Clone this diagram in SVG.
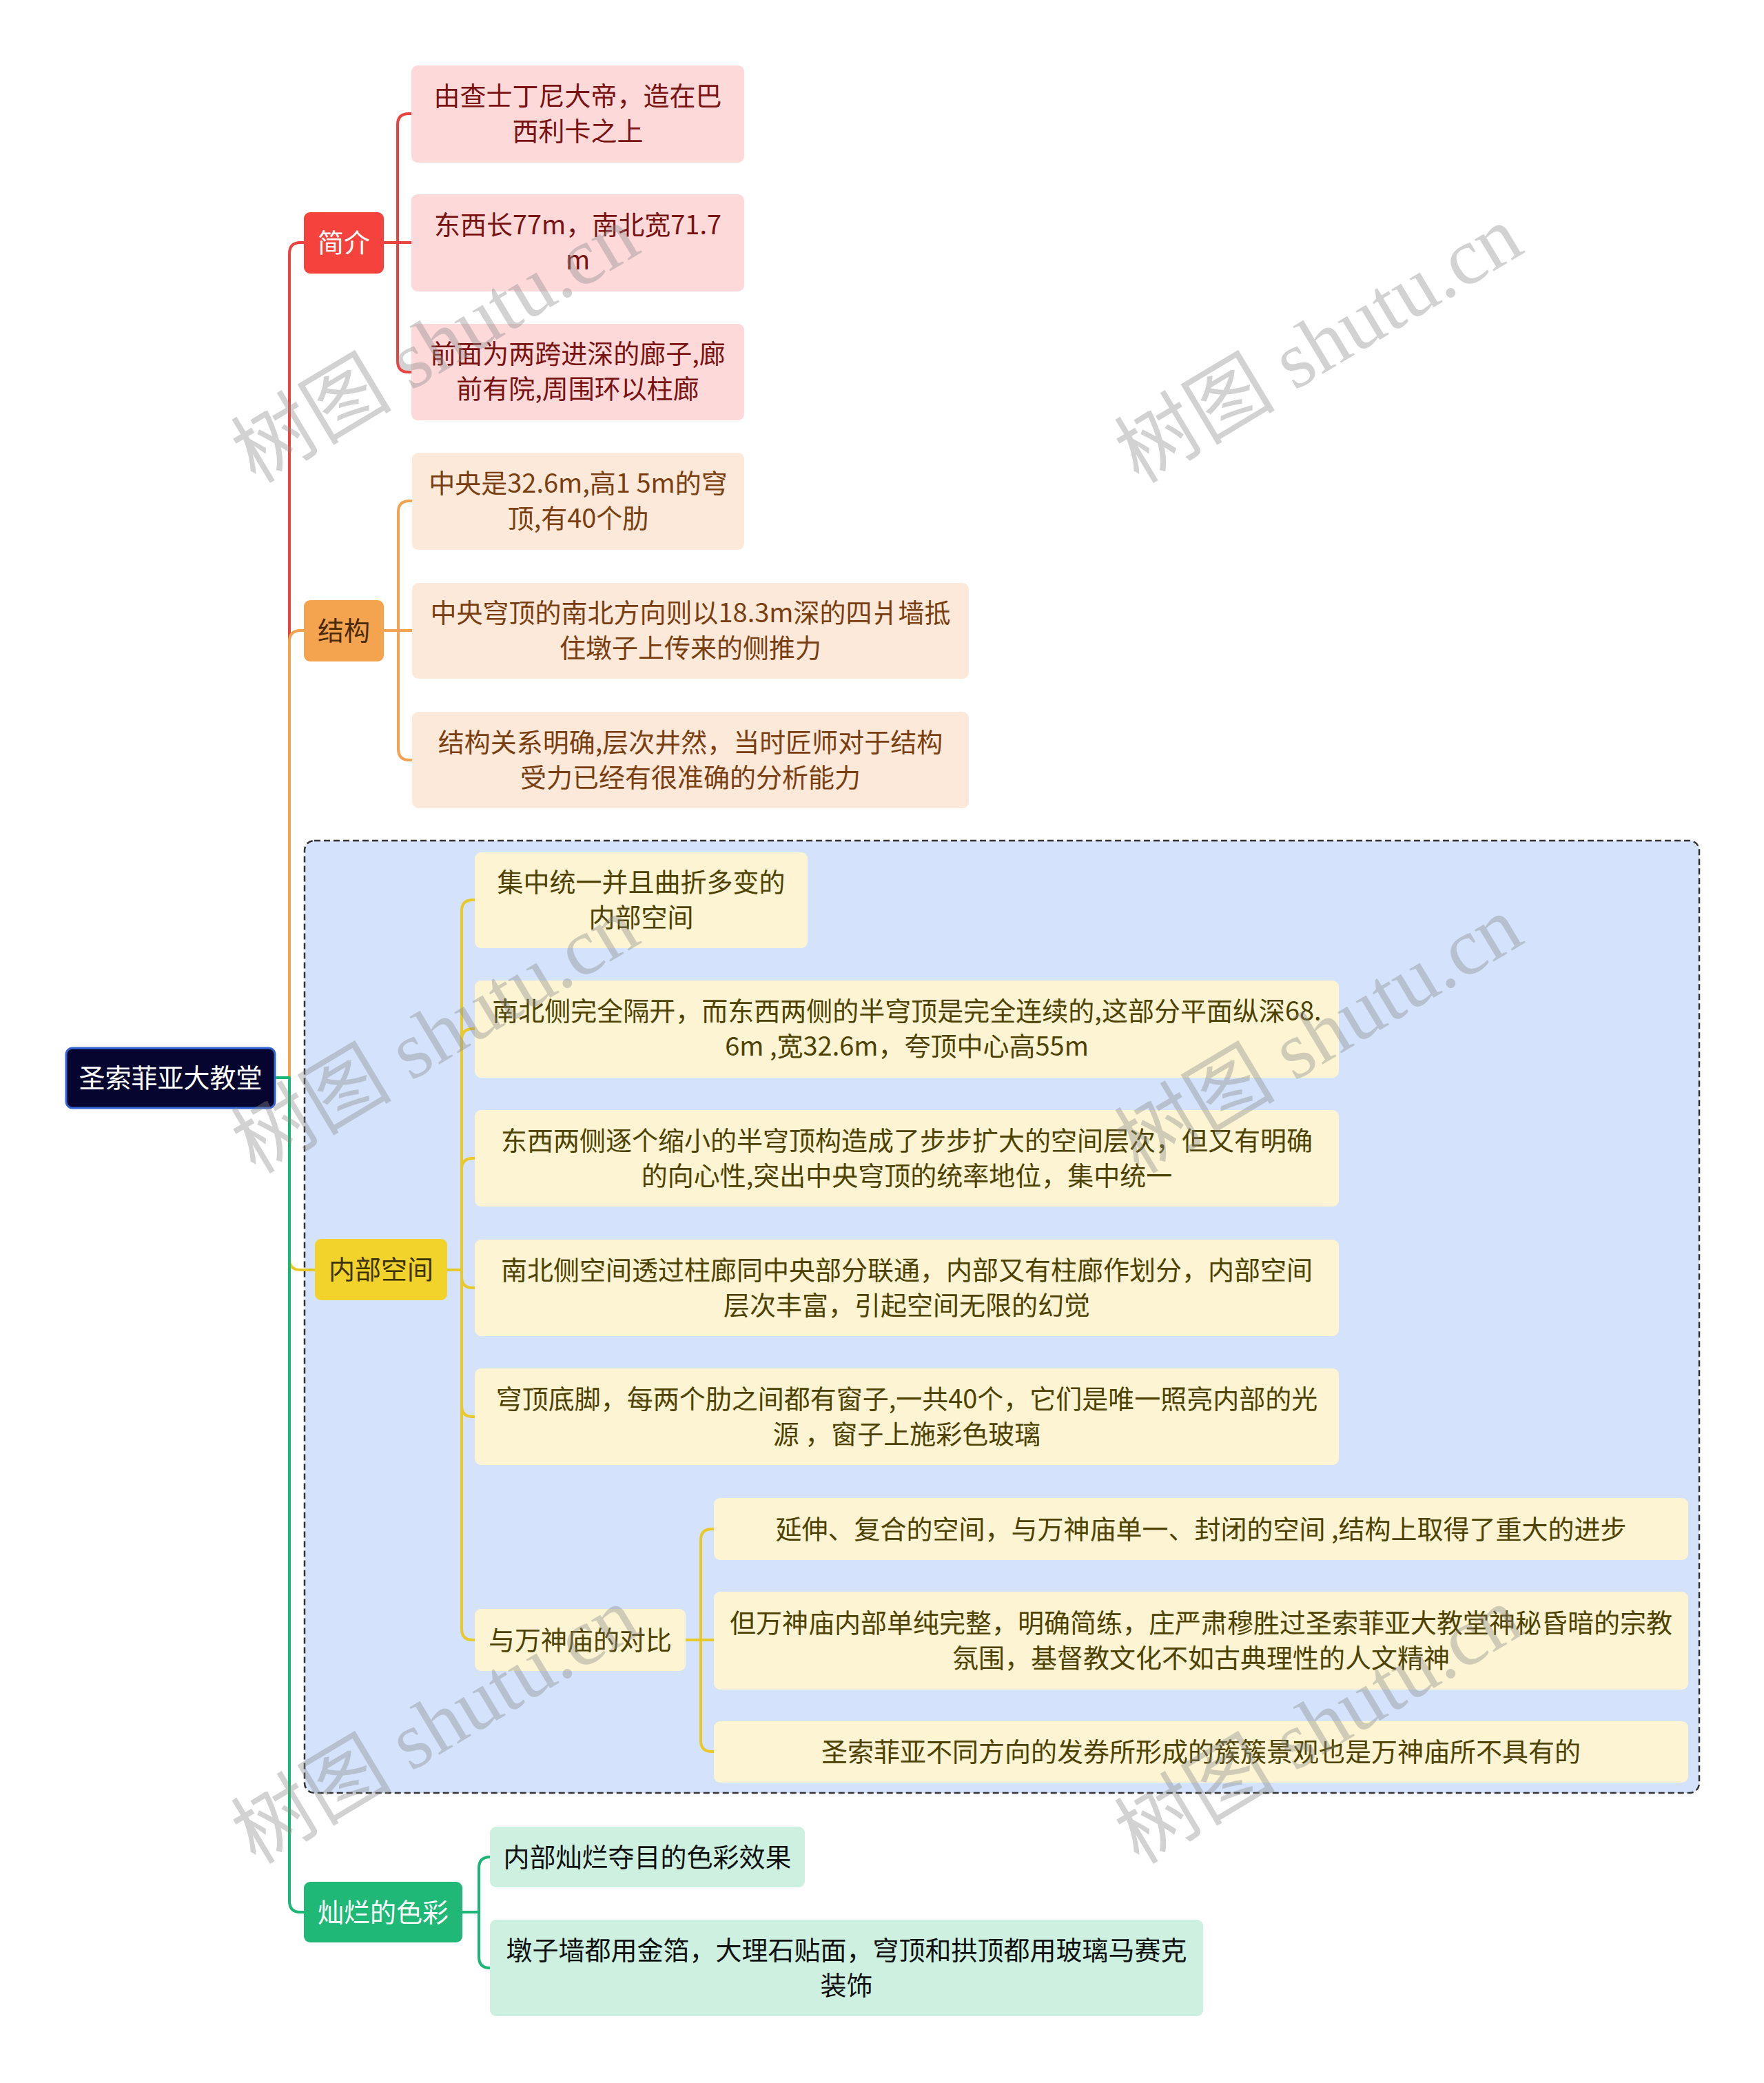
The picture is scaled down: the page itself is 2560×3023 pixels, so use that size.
<svg xmlns="http://www.w3.org/2000/svg" width="2560" height="3023" viewBox="0 0 2560 3023">
<style>
text{font-family:"Noto Sans CJK SC","Liberation Sans",sans-serif;font-size:38px;text-anchor:middle}
.c{fill:none;stroke-width:4;stroke-linecap:round;stroke-linejoin:round}
.red{stroke:#e8443f}.org{stroke:#f0a453}.yel{stroke:#e9c92a}.grn{stroke:#1cb676}
.wm{font-family:"Liberation Serif","Noto Sans CJK SC",serif;font-size:117px;fill:#8a8a8a;fill-opacity:0.38}
</style>
<rect width="2560" height="3023" fill="#ffffff"/>
<g id="group-box">
<rect x="442" y="1220" width="2024" height="1382" rx="14" fill="#d4e3fb" stroke="#333" stroke-width="2.5" stroke-dasharray="9 5"/>
</g>
<g id="connectors">
<path class="c red" d="M399 1564 H420 V368 Q420 352 436 352 H441"/>
<path class="c org" d="M399 1564 H420 V931 Q420 915 436 915 H441"/>
<path class="c yel" d="M399 1564 H420 V1827 Q420 1843 436 1843 H457"/>
<path class="c grn" d="M399 1564 H420 V2759 Q420 2775 436 2775 H441"/>
<path class="c red" d="M557 352 H577 V181 Q577 165 593 165 H597"/>
<path class="c red" d="M557 352 H597"/>
<path class="c red" d="M577 352 V524 Q577 540 593 540 H597"/>
<path class="c org" d="M557 915 H578 V743 Q578 727 594 727 H598"/>
<path class="c org" d="M557 915 H598"/>
<path class="c org" d="M578 915 V1087 Q578 1103 594 1103 H598"/>
<path class="c yel" d="M649 1843 H670 V1322 Q670 1306 686 1306 H689"/>
<path class="c yel" d="M670 1509 Q670 1493 686 1493 H689"/>
<path class="c yel" d="M670 1697 Q670 1681 686 1681 H689"/>
<path class="c yel" d="M670 1843 V1853 Q670 1869 686 1869 H689"/>
<path class="c yel" d="M670 1843 V2040 Q670 2056 686 2056 H689"/>
<path class="c yel" d="M670 2040 V2364 Q670 2380 686 2380 H689"/>
<path class="c yel" d="M995 2380 H1017 V2235 Q1017 2219 1033 2219 H1036"/>
<path class="c yel" d="M995 2380 H1036"/>
<path class="c yel" d="M1017 2380 V2526 Q1017 2542 1033 2542 H1036"/>
<path class="c grn" d="M671 2775 H695 V2711 Q695 2695 711 2695"/>
<path class="c grn" d="M695 2775 V2840 Q695 2856 711 2856"/>
</g>
<g id="root">
<rect x="96" y="1521" width="303" height="87" rx="9" fill="#050530" stroke="#3566d6" stroke-width="3"/>
<text x="247.5" y="1578" fill="#ffffff">圣索菲亚大教堂</text>
</g>
<g id="n-jianjie">
<rect x="441" y="308" width="116" height="89" rx="9" fill="#f5423d"/>
<text x="499" y="366" fill="#ffffff">简介</text>
</g>
<g id="n-a1">
<rect x="597" y="95" width="483" height="141" rx="9" fill="#fdd9da"/>
<text x="838.5" y="153" fill="#7a1212">由查士丁尼大帝，造在巴</text>
<text x="838.5" y="204" fill="#7a1212">西利卡之上</text>
</g>
<g id="n-a2">
<rect x="597" y="282" width="483" height="141" rx="9" fill="#fdd9da"/>
<text x="838.5" y="340" fill="#7a1212">东西长77m，南北宽71.7</text>
<text x="838.5" y="391" fill="#7a1212">m</text>
</g>
<g id="n-a3">
<rect x="597" y="470" width="483" height="140" rx="9" fill="#fdd9da"/>
<text x="838.5" y="527" fill="#7a1212">前面为两跨进深的廊子,廊</text>
<text x="838.5" y="578" fill="#7a1212">前有院,周围环以柱廊</text>
</g>
<g id="n-jiegou">
<rect x="441" y="871" width="116" height="89" rx="9" fill="#f4a34e"/>
<text x="499" y="929" fill="#4a2a08">结构</text>
</g>
<g id="n-b1">
<rect x="598" y="657" width="482" height="141" rx="9" fill="#fde9da"/>
<text x="839" y="715" fill="#7a3e10">中央是32.6m,高1 5m的穹</text>
<text x="839" y="766" fill="#7a3e10">顶,有40个肋</text>
</g>
<g id="n-b2">
<rect x="598" y="846" width="808" height="139" rx="9" fill="#fde9da"/>
<text x="1002" y="903" fill="#7a3e10">中央穹顶的南北方向则以18.3m深的四爿墙抵</text>
<text x="1002" y="954" fill="#7a3e10">住墩子上传来的侧推力</text>
</g>
<g id="n-b3">
<rect x="598" y="1033" width="808" height="140" rx="9" fill="#fde9da"/>
<text x="1002" y="1091" fill="#7a3e10">结构关系明确,层次井然，当时匠师对于结构</text>
<text x="1002" y="1142" fill="#7a3e10">受力已经有很准确的分析能力</text>
</g>
<g id="n-neibu">
<rect x="457" y="1798" width="192" height="89" rx="9" fill="#f2d32b"/>
<text x="553" y="1856" fill="#3d3300">内部空间</text>
</g>
<g id="n-c1">
<rect x="689" y="1237" width="483" height="139" rx="9" fill="#fcf4d3"/>
<text x="930.5" y="1294" fill="#4d4200">集中统一并且曲折多变的</text>
<text x="930.5" y="1345" fill="#4d4200">内部空间</text>
</g>
<g id="n-c2">
<rect x="689" y="1423" width="1254" height="141" rx="9" fill="#fcf4d3"/>
<text x="1316" y="1481" fill="#4d4200">南北侧完全隔开，而东西两侧的半穹顶是完全连续的,这部分平面纵深68.</text>
<text x="1316" y="1532" fill="#4d4200">6m ,宽32.6m，夸顶中心高55m</text>
</g>
<g id="n-c3">
<rect x="689" y="1611" width="1254" height="140" rx="9" fill="#fcf4d3"/>
<text x="1316" y="1669" fill="#4d4200">东西两侧逐个缩小的半穹顶构造成了步步扩大的空间层次，但又有明确</text>
<text x="1316" y="1720" fill="#4d4200">的向心性,突出中央穹顶的统率地位，集中统一</text>
</g>
<g id="n-c4">
<rect x="689" y="1799" width="1254" height="140" rx="9" fill="#fcf4d3"/>
<text x="1316" y="1857" fill="#4d4200">南北侧空间透过柱廊同中央部分联通，内部又有柱廊作划分，内部空间</text>
<text x="1316" y="1908" fill="#4d4200">层次丰富，引起空间无限的幻觉</text>
</g>
<g id="n-c5">
<rect x="689" y="1986" width="1254" height="140" rx="9" fill="#fcf4d3"/>
<text x="1316" y="2044" fill="#4d4200">穹顶底脚，每两个肋之间都有窗子,一共40个，它们是唯一照亮内部的光</text>
<text x="1316" y="2095" fill="#4d4200">源 ，窗子上施彩色玻璃</text>
</g>
<g id="n-c6">
<rect x="689" y="2335" width="306" height="90" rx="9" fill="#fcf4d3"/>
<text x="842" y="2394" fill="#4d4200">与万神庙的对比</text>
</g>
<g id="n-d1">
<rect x="1036" y="2174" width="1414" height="90" rx="9" fill="#fcf4d3"/>
<text x="1743" y="2233" fill="#4d4200">延伸、复合的空间，与万神庙单一、封闭的空间 ,结构上取得了重大的进步</text>
</g>
<g id="n-d2">
<rect x="1036" y="2310" width="1414" height="142" rx="9" fill="#fcf4d3"/>
<text x="1743" y="2369" fill="#4d4200">但万神庙内部单纯完整，明确简练，庄严肃穆胜过圣索菲亚大教堂神秘昏暗的宗教</text>
<text x="1743" y="2420" fill="#4d4200">氛围，基督教文化不如古典理性的人文精神</text>
</g>
<g id="n-d3">
<rect x="1036" y="2498" width="1414" height="89" rx="9" fill="#fcf4d3"/>
<text x="1743" y="2556" fill="#4d4200">圣索菲亚不同方向的发券所形成的簇簇景观也是万神庙所不具有的</text>
</g>
<g id="n-color">
<rect x="441" y="2731" width="230" height="88" rx="9" fill="#1fb876"/>
<text x="556" y="2789" fill="#ffffff">灿烂的色彩</text>
</g>
<g id="n-e1">
<rect x="711" y="2651" width="457" height="88" rx="9" fill="#cdf0e0"/>
<text x="939.5" y="2709" fill="#111111">内部灿烂夺目的色彩效果</text>
</g>
<g id="n-e2">
<rect x="711" y="2786" width="1035" height="140" rx="9" fill="#cdf0e0"/>
<text x="1228.5" y="2844" fill="#111111">墩子墙都用金箔，大理石贴面，穹顶和拱顶都用玻璃马赛克</text>
<text x="1228.5" y="2895" fill="#111111">装饰</text>
</g>
<g id="watermarks">
<text class="wm" transform="translate(652,534) rotate(-31)">树图 shutu.cn</text>
<text class="wm" transform="translate(1934,534) rotate(-31)">树图 shutu.cn</text>
<text class="wm" transform="translate(652,1536) rotate(-31)">树图 shutu.cn</text>
<text class="wm" transform="translate(1934,1536) rotate(-31)">树图 shutu.cn</text>
<text class="wm" transform="translate(652,2538) rotate(-31)">树图 shutu.cn</text>
<text class="wm" transform="translate(1934,2538) rotate(-31)">树图 shutu.cn</text>
</g>
</svg>
